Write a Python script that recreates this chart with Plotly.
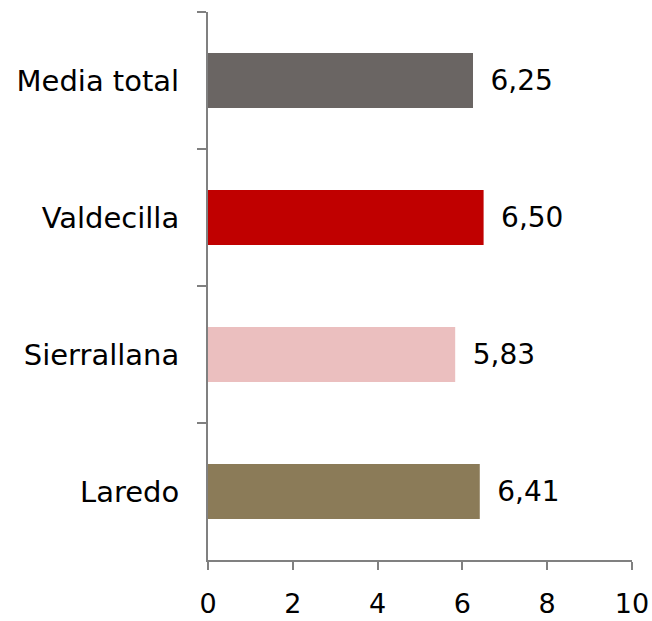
import plotly.graph_objects as go

categories = ["Media total", "Valdecilla", "Sierrallana", "Laredo"]
values = [6.25, 6.50, 5.83, 6.41]
colors = ["#6A6563", "#C00000", "#EBBFBF", "#8B7B58"]
x_ticks = [0, 2, 4, 6, 8, 10]

font_family = "DejaVu Sans"
fs = 28

fig = go.Figure(go.Bar(
    y=categories, x=values, orientation="h",
    marker=dict(color=colors, line=dict(width=0)),
    width=0.4,
    texttemplate="\u00a0\u2009%{x:.2f}", textposition="outside",
    textfont=dict(size=fs, color="#000000", family=font_family),
    cliponaxis=False,
))

fig.update_layout(
    width=652, height=621,
    margin=dict(l=208, r=20, t=12, b=61, autoexpand=False),
    plot_bgcolor="white", paper_bgcolor="white",
    separators=",.",
    showlegend=False,
    font=dict(family=font_family, size=fs, color="#000000"),
    xaxis=dict(
        range=[0, 10], tickvals=x_ticks, showgrid=False, zeroline=False,
        showline=True, linecolor="#808080", linewidth=2,
        ticks="outside", ticklen=8, tickwidth=2, tickcolor="#808080",
        tickfont=dict(size=27, family=font_family, color="#000000"),
        ticklabelstandoff=11, automargin=False,
    ),
    yaxis=dict(
        autorange="reversed", showgrid=False, zeroline=False,
        showline=True, linecolor="#808080", linewidth=2,
        ticks="outside", ticklen=9, tickwidth=2, tickcolor="#808080",
        tickson="boundaries",
        tickfont=dict(size=29, family=font_family, color="#000000"),
        ticklabelstandoff=21, automargin=False,
    ),
)

fig.write_html(
    "out.html",
    config={"displayModeBar": False},
    post_script="document.body.style.margin='0';document.body.style.overflow='hidden';",
)
